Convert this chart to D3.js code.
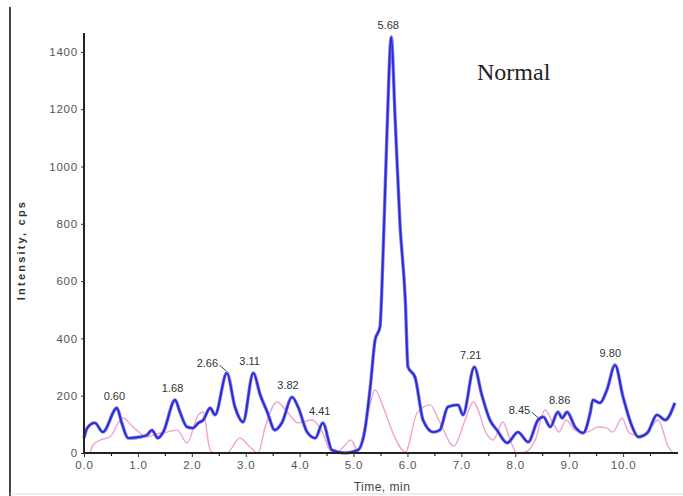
<!DOCTYPE html>
<html>
<head>
<meta charset="utf-8">
<script src="https://cdn.jsdelivr.net/npm/d3@7"></script>
<style>
  body { margin: 0; background: #fff; }
  svg { display: block; }
</style>
</head>
<body>
<div id="chart"></div>
<script>
// Chromatogram data (time in min, intensity in cps)
const blueTimes = [0, 0.06, 0.20, 0.35, 0.61, 0.70, 0.82, 1.04, 1.17, 1.26, 1.37, 1.47, 1.69, 1.78, 1.91, 2.02, 2.12, 2.21, 2.34, 2.43,
    2.65, 2.80, 2.95, 3.14, 3.27, 3.40, 3.54, 3.67, 3.86, 3.97, 4.14, 4.29, 4.43, 4.60, 4.84, 5.08, 5.21, 5.31, 5.40, 5.49,
    5.55, 5.62, 5.70, 5.77, 5.86, 5.96, 6.01, 6.14, 6.29, 6.48, 6.60, 6.75, 6.94, 7.03, 7.24, 7.38, 7.53, 7.66, 7.85, 8.05,
    8.24, 8.42, 8.52, 8.65, 8.79, 8.87, 8.96, 9.11, 9.26, 9.39, 9.44, 9.57, 9.70, 9.85, 10.00, 10.17, 10.28, 10.45, 10.63, 10.78, 10.96];
const blueValues = [52, 87, 105, 73, 157, 105, 52, 56, 63, 80, 52, 73, 185, 143, 91, 87, 105, 115, 157, 133,
    279, 161, 108, 279, 202, 143, 80, 105, 195, 161, 73, 52, 105, 10, 0, 10, 80, 230, 394, 440,
    709, 1117, 1452, 1173, 803, 534, 300, 265, 115, 73, 80, 161, 168, 133, 300, 202, 115, 80, 35, 73,
    38, 115, 126, 91, 143, 122, 143, 91, 70, 140, 185, 175, 220, 307, 195, 91, 56, 70, 133, 115, 175];

const pinkTimes = [0.11, 0.17, 0.30, 0.48, 0.72, 0.91, 1.17, 1.41, 1.54, 1.73, 1.91, 2.12, 2.21, 2.34, 2.43, 2.65, 2.89, 3.08, 3.23, 3.36,
    3.58, 3.77, 3.97, 4.23, 4.42, 4.56, 4.68, 4.81, 4.95, 5.08, 5.25, 5.40, 5.55, 5.73, 5.96, 6.18, 6.42, 6.60, 6.86, 7.07,
    7.22, 7.48, 7.59, 7.77, 7.92, 8.03, 8.18, 8.37, 8.55, 8.70, 8.81, 8.94, 9.11, 9.33, 9.54, 9.70, 9.81, 9.98, 10.11, 10.33,
    10.52, 10.65, 10.84, 10.93];
const pinkValues = [0, 28, 45, 56, 122, 91, 56, 70, 73, 80, 35, 133, 143, 10, 0, 0, 52, 21, 0, 91,
    178, 143, 105, 115, 73, 10, 0, 21, 45, 10, 126, 220, 161, 70, 3, 140, 168, 108, 24, 115,
    178, 63, 45, 108, 38, 0, 3, 45, 150, 105, 73, 115, 80, 73, 91, 87, 73, 122, 70, 59,
    91, 115, 21, 0];

// Peak annotations
const peakLabels = ['0.60', '1.68', '2.66', '3.11', '3.82', '4.41', '5.68', '7.21', '8.45', '8.86', '9.80'];
const peakHeights = [157, 185, 279, 279, 195, 105, 1452, 300, 115, 143, 307];
const leaderLabels = ['2.66', '8.45'];   // drawn to the left with a small leader line

const xTicks = [0, 1, 2, 3, 4, 5, 6, 7, 8, 9, 10];
const yTicks = [0, 200, 400, 600, 800, 1000, 1200, 1400];

// SVG
const W = 683, H = 496;
const svg = d3.select('#chart').append('svg')
    .attr('width', W)
    .attr('height', H);

// Scales
const x = d3.scaleLinear().domain([0, 11]).range([84, 677]);
const y = d3.scaleLinear().domain([0, 1466]).range([453, 33]);

// Frame line at the left and faint bottom line
svg.append('line')
    .attr('x1', 10).attr('x2', 10).attr('y1', 7).attr('y2', H)
    .attr('stroke', '#444').attr('stroke-width', 2);
svg.append('line')
    .attr('x1', 10).attr('x2', W).attr('y1', H - 2).attr('y2', H - 2)
    .attr('stroke', '#ddd').attr('stroke-width', 1);

// Lines
const blueData = blueTimes.map((t, i) => [t, blueValues[i]]);
const pinkData = pinkTimes.map((t, i) => [t, pinkValues[i]]);

const line = d3.line()
    .x(d => x(d[0]))
    .y(d => y(d[1]))
    .curve(d3.curveMonotoneX);

svg.append('path')
    .datum(pinkData)
    .attr('d', line)
    .attr('fill', 'none')
    .attr('stroke', '#f092c8')
    .attr('stroke-opacity', 0.85)
    .attr('stroke-width', 1.4);

svg.append('path')
    .datum(blueData)
    .attr('d', line)
    .attr('fill', 'none')
    .attr('stroke', '#7a7af0')
    .attr('stroke-width', 3.4)
    .attr('stroke-linejoin', 'round');
svg.append('path')
    .datum(blueData)
    .attr('d', line)
    .attr('fill', 'none')
    .attr('stroke', '#2a2ad0')
    .attr('stroke-width', 1.8)
    .attr('stroke-linejoin', 'round');

// Axes
const xAxis = svg.append('g')
    .attr('transform', `translate(0, ${y(0)})`)
    .call(d3.axisBottom(x).tickValues(xTicks).tickFormat(d3.format('.1f')).tickSize(4).tickPadding(4));
svg.append('g')
    .attr('transform', `translate(0, ${y(0)})`)
    .call(d3.axisBottom(x).tickValues(xTicks.map(d => d + 0.5)).tickFormat('').tickSize(3))
    .select('.domain').remove();

const yAxis = svg.append('g')
    .attr('transform', `translate(${x(0)}, 0)`)
    .call(d3.axisLeft(y).tickValues(yTicks).tickFormat(d3.format('d')).tickSize(3).tickPadding(3));

[xAxis, yAxis].forEach(g => {
    g.select('.domain').attr('stroke', '#222').attr('stroke-width', 2);
    g.selectAll('.tick line').attr('stroke', '#333');
    g.selectAll('.tick text')
        .attr('fill', '#555')
        .style('font-family', 'Arial, "Liberation Sans", sans-serif')
        .style('font-size', '11.5px')
        .style('letter-spacing', '0.8px');
});
xAxis.select('.domain').attr('d', `M${x(0)},0H${x(11) + 1}`);
yAxis.select('.domain').attr('d', `M0,${y(0)}V${y(1466)}`);

// Axis titles
svg.append('text')
    .attr('x', 382)
    .attr('y', 491)
    .attr('text-anchor', 'middle')
    .attr('fill', '#444')
    .style('font-family', 'Arial, "Liberation Sans", sans-serif')
    .style('font-size', '12px')
    .style('letter-spacing', '0.5px')
    .text('Time, min');

svg.append('text')
    .attr('transform', 'translate(25, 250) rotate(-90)')
    .attr('text-anchor', 'middle')
    .attr('fill', '#333')
    .style('font-family', 'Arial, "Liberation Sans", sans-serif')
    .style('font-size', '11px')
    .style('font-weight', 'bold')
    .style('letter-spacing', '2.2px')
    .text('Intensity, cps');

// Peak labels
peakLabels.forEach((lab, i) => {
    const px = x(+lab), py = y(peakHeights[i]);
    const shifted = leaderLabels.includes(lab);
    const tx = shifted ? px - 20 : px - 2;
    const ty = shifted ? py - 6 : py - 8;
    svg.append('text')
        .attr('x', tx)
        .attr('y', ty)
        .attr('text-anchor', 'middle')
        .attr('fill', '#333')
        .style('font-family', 'Arial, "Liberation Sans", sans-serif')
        .style('font-size', '11px')
        .text(lab);
    if (shifted) {
        svg.append('line')
            .attr('x1', tx + 12).attr('y1', ty - 2)
            .attr('x2', px - 1).attr('y2', py - 2)
            .attr('stroke', '#444').attr('stroke-width', 1);
    }
});

// Sample name
svg.append('text')
    .attr('x', 477)
    .attr('y', 80)
    .attr('fill', '#222')
    .style('font-family', '"Liberation Serif", "Times New Roman", serif')
    .style('font-size', '24px')
    .text('Normal');
</script>
</body>
</html>
